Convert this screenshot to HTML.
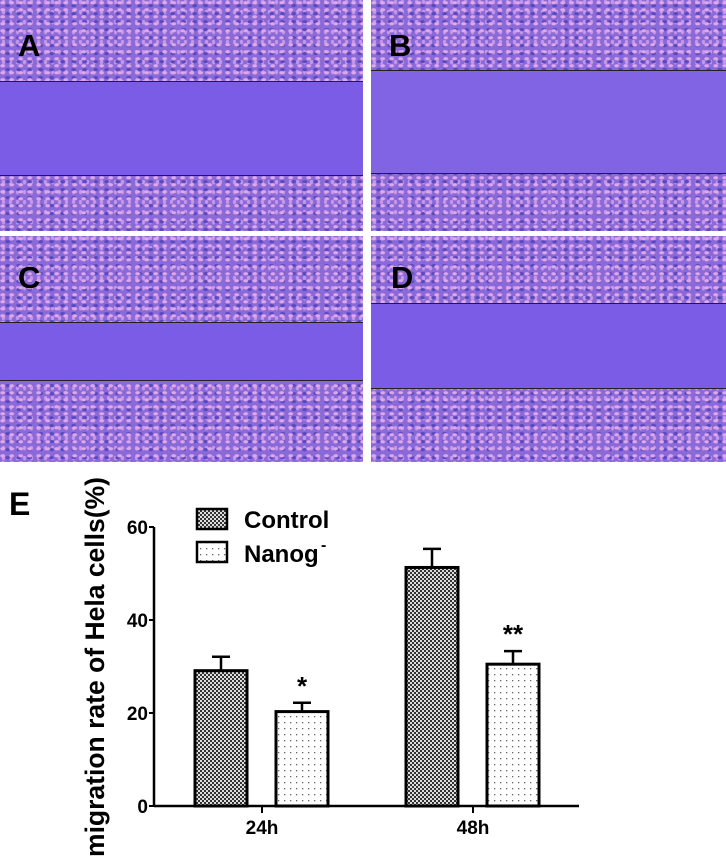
<!DOCTYPE html>
<html><head><meta charset="utf-8"><style>
body{margin:0;width:726px;height:862px;background:#fff;position:relative;overflow:hidden;font-family:"Liberation Sans",sans-serif}
.p{position:absolute;background-color:#8a6ad8;
background-image:radial-gradient(ellipse 3px 2px at 30% 40%,#e0a8e8 60%,transparent 100%),radial-gradient(ellipse 3px 2px at 70% 70%,#5848c0 60%,transparent 100%),radial-gradient(ellipse 2px 3px at 50% 20%,#c898e8 60%,transparent 100%);
background-size:9px 7px,11px 8px,7px 10px}
.g{position:absolute;left:0;right:0;background:#7a5ce6;border-top:1.5px solid #222;border-bottom:1.5px solid #222}
.L{position:absolute;font-weight:bold;font-size:31px;color:#000}
</style></head><body>
<div class="p" style="left:0;top:0;width:363px;height:231px"><div class="g" style="top:81px;height:93px"></div><div class="L" style="left:18px;top:28px">A</div></div>
<div class="p" style="left:371px;top:0;width:355px;height:231px"><div class="g" style="top:70px;height:102px;background:#8064e4"></div><div class="L" style="left:18px;top:28px">B</div></div>
<div class="p" style="left:0;top:236px;width:363px;height:226px"><div class="g" style="top:86px;height:57px"></div><div class="L" style="left:18px;top:24px">C</div></div>
<div class="p" style="left:371px;top:236px;width:355px;height:226px"><div class="g" style="top:67px;height:84px"></div><div class="L" style="left:20px;top:24px">D</div></div>
<svg width="726" height="400" style="position:absolute;left:0;top:462px">
<defs>
<pattern id="chk" width="4" height="4" patternUnits="userSpaceOnUse"><rect width="4" height="4" fill="#ddd"/><rect width="2" height="2" fill="#333"/><rect x="2" y="2" width="2" height="2" fill="#333"/></pattern>
<pattern id="dot" width="6" height="6" patternUnits="userSpaceOnUse"><rect width="6" height="6" fill="#fff"/><rect x="2" y="2" width="1.3" height="1.3" fill="#666"/></pattern>
</defs>
<g id="chart" font-family="Liberation Sans, sans-serif" font-weight="bold"></g>
</svg>
<script>
const groups=['24h','48h'];
const controlVals=[29.1,51.3];
const controlErr=[3.0,4.0];
const nanogVals=[20.3,30.5];
const nanogErr=[1.9,2.8];
const stars=['*','**'];
const yTicks=[0,20,40,60];
const OY=462, x0=154, y0=806-OY, y60=527-OY;
function ys(v){return y0-(v/60)*(y0-y60);}
const g=document.getElementById('chart');
function el(t,a,txt){const e=document.createElementNS('http://www.w3.org/2000/svg',t);for(const k in a)e.setAttribute(k,a[k]);if(txt!==undefined)e.textContent=txt;g.appendChild(e);return e;}
let e=el('line',{x1:x0,y1:y60,x2:x0,y2:y0,stroke:'#000','stroke-width':2.5});


e=el('line',{x1:x0,y1:y0,x2:579,y2:y0,stroke:'#000','stroke-width':2.5});


yTicks.forEach(v=>{el('line',{x1:x0-5,y1:ys(v),x2:x0,y2:ys(v),stroke:'#000','stroke-width':2});
e=el('text',{x:x0-6,y:ys(v)+7,'text-anchor':'end','font-size':19},v);

});
const centers=[262,473], bw=52;
groups.forEach((gname,i)=>{
 const c=centers[i];
 el('line',{x1:c,y1:y0,x2:c,y2:y0+7,stroke:'#000','stroke-width':2});
 e=el('text',{x:c,y:y0+28,'text-anchor':'middle','font-size':19},gname);
 
 
 [[controlVals,controlErr,'url(#chk)',c-67,'bar-control'],[nanogVals,nanogErr,'url(#dot)',c+14,'bar-nanog']].forEach(([vals,errs,fill,x,nm])=>{
  const top=ys(vals[i]), et=ys(vals[i]+errs[i]);
  el('line',{x1:x+bw/2,y1:top,x2:x+bw/2,y2:et,stroke:'#000','stroke-width':2.5});
  el('line',{x1:x+bw/2-9,y1:et,x2:x+bw/2+9,y2:et,stroke:'#000','stroke-width':2.5});
  e=el('rect',{x:x,y:top,width:bw,height:y0-top,fill:fill,stroke:'#000','stroke-width':3});
  
  
 });
 e=el('text',{x:c+14+bw/2,y:ys(nanogVals[i]+nanogErr[i])-8,'text-anchor':'middle','font-size':26},stars[i]);
 
 
});
el('rect',{x:197,y:509-OY,width:30,height:20,fill:'url(#chk)',stroke:'#000','stroke-width':2.5});
el('rect',{x:197,y:542-OY,width:30,height:20,fill:'url(#dot)',stroke:'#000','stroke-width':2.5});
e=el('text',{x:244,y:528-OY,'font-size':24},'Control');


e=el('text',{x:244,y:562-OY,'font-size':24},'Nanog');


el('text',{x:321,y:550-OY,'font-size':16},'-');
e=el('text',{x:9,y:515-OY,'font-size':32},'E');


e=el('text',{x:0,y:0,'font-size':27,'text-anchor':'middle',textLength:380,lengthAdjust:'spacingAndGlyphs',transform:`translate(104,${667-OY}) rotate(-90)`},'migration rate of Hela cells(%)');


</script>
</body></html>
